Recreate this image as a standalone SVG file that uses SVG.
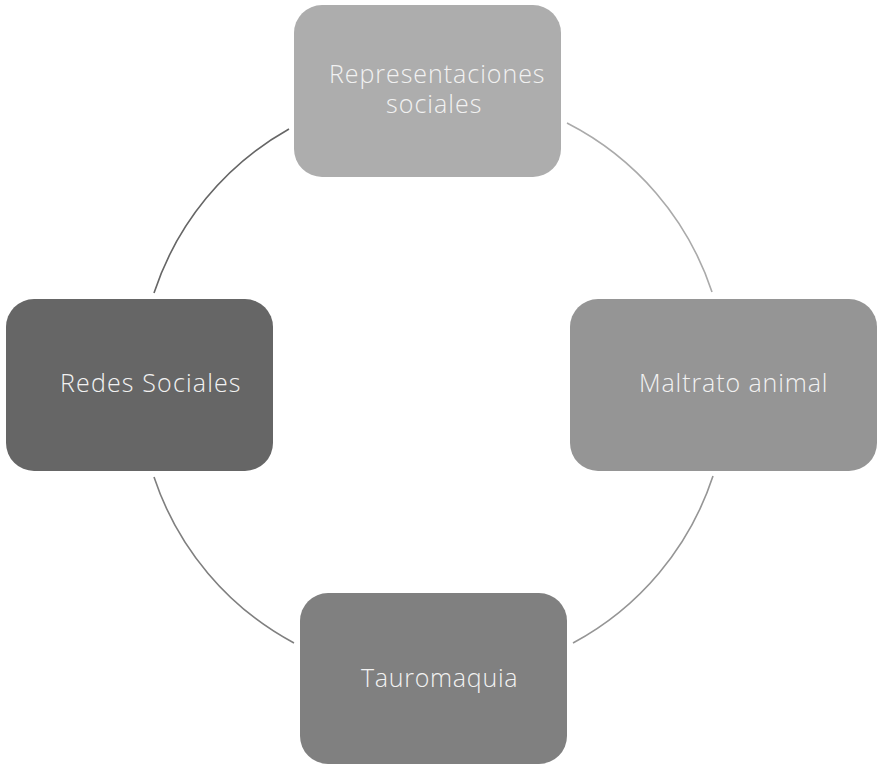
<svg xmlns="http://www.w3.org/2000/svg" width="878" height="765" viewBox="0 0 878 765">
  <style>
    .lbl { font-family: "Open Sans", "DejaVu Sans", sans-serif; font-weight: 300; font-size: 25px; fill: #f2f2f2; letter-spacing: 0.5px; }
    .arc { fill: none; stroke-width: 1.6; }
  </style>
  <rect width="878" height="765" fill="#ffffff"/>
  <g id="connectors">
    <path class="arc" stroke="#aaaaaa" d="M567,123 A293,293 0 0 1 712,292"/>
    <path class="arc" stroke="#959595" d="M713,476 A293,293 0 0 1 573,643"/>
    <path class="arc" stroke="#7f7f7f" d="M294,643 A293,293 0 0 1 154,477"/>
    <path class="arc" stroke="#666666" d="M154,293 A293,293 0 0 1 289,129"/>
  </g>
  <g id="node-representaciones">
    <rect x="294" y="5" width="267" height="172" rx="28" fill="#adadad"/>
    <text class="lbl" x="329" y="83" textLength="216" lengthAdjust="spacing">Representaciones</text>
    <text class="lbl" x="386" y="113" textLength="96" lengthAdjust="spacing">sociales</text>
  </g>
  <g id="node-maltrato">
    <rect x="570" y="299" width="307" height="172" rx="28" fill="#959595"/>
    <text class="lbl" x="639" y="392" textLength="189" lengthAdjust="spacing">Maltrato animal</text>
  </g>
  <g id="node-tauromaquia">
    <rect x="300" y="593" width="267" height="171" rx="28" fill="#808080"/>
    <text class="lbl" x="361" y="687" textLength="157" lengthAdjust="spacing">Tauromaquia</text>
  </g>
  <g id="node-redes">
    <rect x="6" y="299" width="267" height="172" rx="28" fill="#666666"/>
    <text class="lbl" x="60" y="392" textLength="181" lengthAdjust="spacing">Redes Sociales</text>
  </g>
</svg>
